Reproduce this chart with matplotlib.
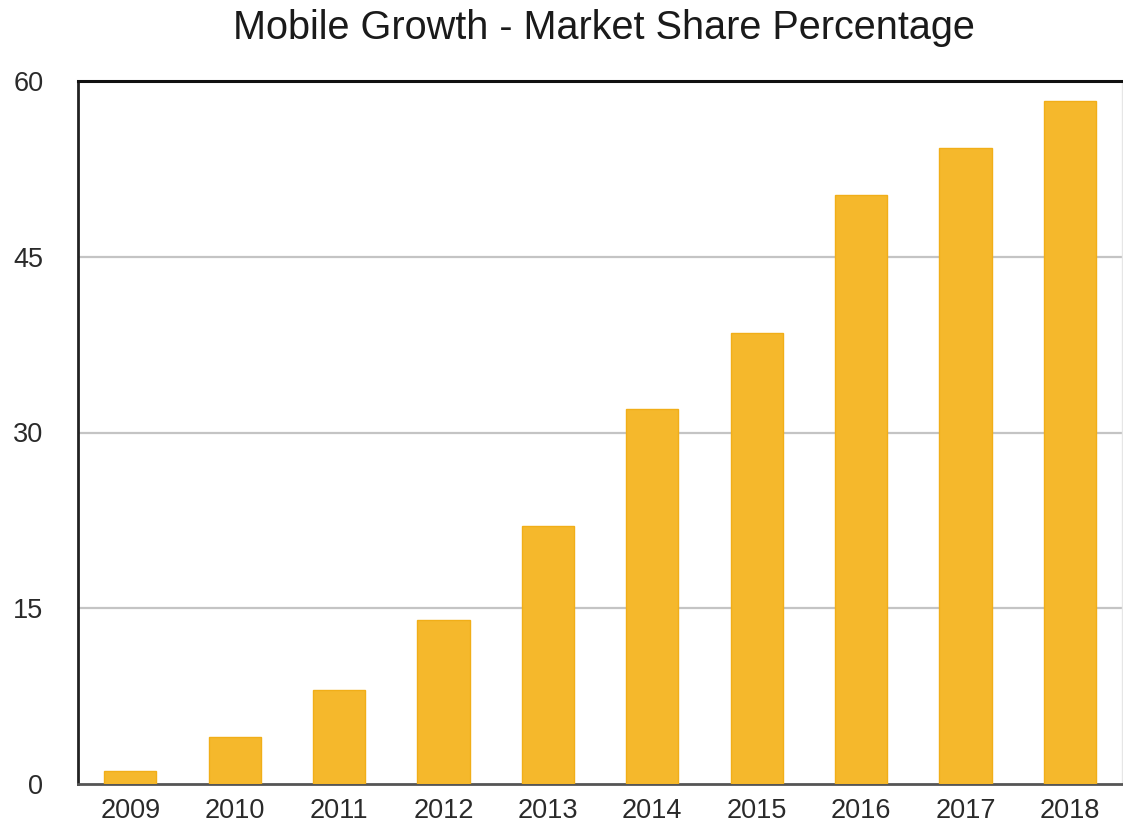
import matplotlib
matplotlib.use("Agg")
import matplotlib.pyplot as plt

years = ["2009", "2010", "2011", "2012", "2013", "2014", "2015", "2016", "2017", "2018"]
share = [1.1, 4.0, 8.0, 14.0, 22.0, 32.0, 38.5, 50.3, 54.3, 58.3]
yticks = [0, 15, 30, 45, 60]
title = "Mobile Growth - Market Share Percentage"

plt.rcParams['font.family'] = ['Liberation Sans', 'DejaVu Sans']

fig = plt.figure(figsize=(11.23, 8.27), dpi=100)
ax = fig.add_axes([78/1123, 1 - 784/827, (1122 - 78)/1123, (784 - 81)/827])

x = list(range(len(years)))
ax.bar(x, share, width=0.5, color='#F5B82C', edgecolor='#F1AE18', linewidth=1.0, zorder=3)

ax.set_xlim(-0.5, len(years) - 0.5)
ax.set_ylim(0, 60)
ax.set_yticks(yticks)
ax.set_yticklabels([str(t) for t in yticks])
ax.set_xticks(x)
ax.set_xticklabels(years)

ax.tick_params(axis='both', length=0, labelsize=19.5, labelcolor='#2a2a2a')
ax.tick_params(axis='y', pad=25)
ax.tick_params(axis='x', pad=10)

for t in [15, 30, 45]:
    ax.axhline(t, color='#c4c4c4', linewidth=1.6, zorder=1)

ax.spines['left'].set_color('#222222')
ax.spines['left'].set_linewidth(2.0)
ax.spines['bottom'].set_color('#555555')
ax.spines['bottom'].set_linewidth(2.0)
ax.spines['top'].set_color('#111111')
ax.spines['top'].set_linewidth(2.2)
ax.spines['right'].set_color('#e6e6e6')
ax.spines['right'].set_linewidth(1.0)

fig.text(604/1123, 1 - 28/827, title, ha='center', va='center', fontsize=28.5, color='#1a1a1a')

fig.savefig("out.png", dpi=100, facecolor='white')
